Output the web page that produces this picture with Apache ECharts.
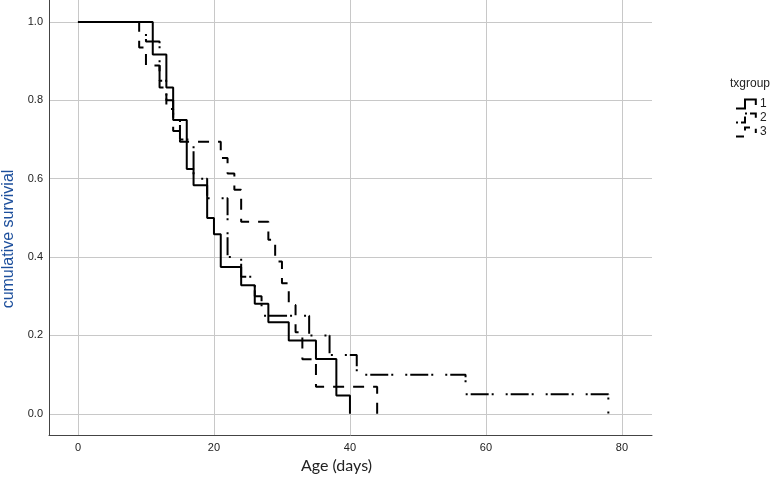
<!DOCTYPE html>
<html><head><meta charset="utf-8">
<script src="https://cdn.jsdelivr.net/npm/echarts@6/dist/echarts.min.js"></script>
<style>html,body{margin:0;padding:0;background:#fff}#c{width:773px;height:481px}</style>
</head><body><div id="c"></div>
<script>
// Kaplan-Meier step data
const groupNames = ['1', '2', '3'];
const times1 = [0, 11, 13, 14, 16, 17, 19, 20, 21, 24, 26, 28, 31, 35, 38, 40];
const surv1  = [1, 0.917, 0.833, 0.75, 0.625, 0.583, 0.5, 0.458, 0.375, 0.328, 0.281, 0.234, 0.187, 0.14, 0.047, 0];
const times2 = [0, 10, 12, 13, 14, 15, 17, 19, 22, 24, 26, 27, 34, 37, 41, 57, 78];
const surv2  = [1, 0.95, 0.85, 0.8, 0.75, 0.7, 0.6, 0.55, 0.4, 0.35, 0.3, 0.25, 0.2, 0.15, 0.1, 0.05, 0];
const times3 = [0, 9, 10, 12, 13, 14, 15, 21, 22, 23, 24, 28, 29, 30, 31, 32, 33, 35, 44];
const surv3  = [1, 0.935, 0.889, 0.833, 0.778, 0.722, 0.694, 0.653, 0.613, 0.572, 0.49, 0.444, 0.389, 0.333, 0.278, 0.208, 0.139, 0.069, 0];
const xTicks = [0, 20, 40, 60, 80];
const yTicks = [0, 0.2, 0.4, 0.6, 0.8, 1.0];
const xTitle = 'Age (days)';
const yTitle = 'cumulative survivial';
const legendTitle = 'txgroup';

const zip = (t, s) => t.map((v, i) => [v, s[i]]);
const stepIcon = 'path://M0,10L10,10L10,0L22,0L22,6';

const chart = echarts.init(document.getElementById('c'), null, {renderer: 'canvas'});
chart.setOption({
  animation: false,
  backgroundColor: '#ffffff',
  title: {
    text: legendTitle, left: 730, top: 78, padding: 0,
    textStyle: {fontSize: 12, fontWeight: 'normal', color: '#222', fontFamily: 'Liberation Sans'}
  },
  legend: {
    orient: 'vertical', left: 735, top: 98, padding: 0,
    itemWidth: 22, itemHeight: 9, itemGap: 2,
    textStyle: {fontSize: 12, color: '#222', fontFamily: 'Liberation Sans', lineHeight: 11, padding: [0, 0, 0, -2]},
    data: [
      {name: groupNames[0], icon: stepIcon, itemStyle: {color: 'transparent', borderColor: '#000', borderWidth: 2}},
      {name: groupNames[1], icon: stepIcon, itemStyle: {color: 'transparent', borderColor: '#000', borderWidth: 2, borderType: [2, 3, 10, 3]}},
      {name: groupNames[2], icon: stepIcon, itemStyle: {color: 'transparent', borderColor: '#000', borderWidth: 2, borderType: [8, 7]}}
    ]
  },
  grid: {left: 49, right: 121, top: 0, bottom: 46, containLabel: false, outerBoundsMode: 'none'},
  xAxis: {
    type: 'value', min: -4.26, max: 84.42,
    name: xTitle, nameLocation: 'middle', nameGap: 18,
    nameTextStyle: {fontFamily: 'Lato', fontSize: 16, color: '#222', padding: [0, 28, 0, 0]},
    axisLine: {show: true, onZero: false, lineStyle: {color: '#444', width: 1}},
    axisTick: {show: false, customValues: xTicks},
    axisLabel: {customValues: xTicks, fontFamily: 'Liberation Sans', fontSize: 11, color: '#222', margin: 7,
      formatter: v => String(Math.round(v))},
    splitLine: {show: true, lineStyle: {color: '#c8c8c8', width: 1}}
  },
  yAxis: {
    type: 'value', min: -0.054, max: 1.056,
    name: yTitle, nameLocation: 'middle', nameRotate: 90, nameGap: 32,
    nameTextStyle: {fontFamily: 'Liberation Sans', fontSize: 16, color: '#1d4f9c', padding: [0, 43, 0, 0]},
    axisLine: {show: true, onZero: false, lineStyle: {color: '#444', width: 1}},
    axisTick: {show: false, customValues: yTicks},
    axisLabel: {customValues: yTicks, fontFamily: 'Liberation Sans', fontSize: 11, color: '#222', margin: 6,
      formatter: v => v.toFixed(1)},
    splitLine: {show: true, lineStyle: {color: '#c8c8c8', width: 1}}
  },
  series: [
    {name: groupNames[2], type: 'line', step: 'end', symbol: 'none', data: zip(times3, surv3),
      lineStyle: {color: '#000', width: 2, type: [11, 9]}, itemStyle: {color: '#000'}},
    {name: groupNames[1], type: 'line', step: 'end', symbol: 'none', data: zip(times2, surv2),
      lineStyle: {color: '#000', width: 2, type: [2, 3, 18, 3, 2, 12]}, itemStyle: {color: '#000'}},
    {name: groupNames[0], type: 'line', step: 'end', symbol: 'none', data: zip(times1, surv1),
      lineStyle: {color: '#000', width: 2}, itemStyle: {color: '#000'}}
  ]
});
</script>
</body></html>
